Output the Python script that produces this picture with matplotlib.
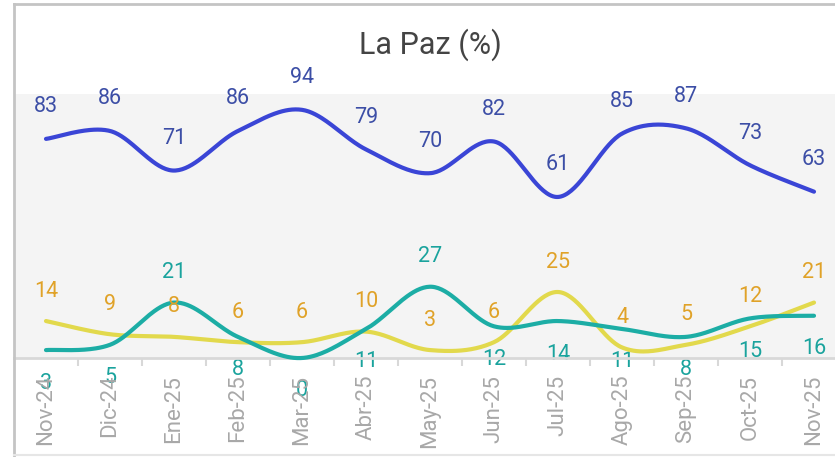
import numpy as np
import matplotlib
matplotlib.use("Agg")
import matplotlib.pyplot as plt
from matplotlib.lines import Line2D

months = ["Nov-24", "Dic-24", "Ene-25", "Feb-25", "Mar-25", "Abr-25", "May-25",
          "Jun-25", "Jul-25", "Ago-25", "Sep-25", "Oct-25", "Nov-25"]
blue_vals = [83, 86, 71, 86, 94, 79, 70, 82, 61, 85, 87, 73, 63]
teal_vals = [3, 5, 21, 8, 0, 11, 27, 12, 14, 11, 8, 15, 16]
yellow_vals = [14, 9, 8, 6, 6, 10, 3, 6, 25, 4, 5, 12, 21]

plt.rcParams['font.family'] = ['Roboto', 'DejaVu Sans']

W, H = 835, 457
fig = plt.figure(figsize=(W / 100, H / 100), dpi=100)


def smooth(xs, ys, n=40):
    xs = np.asarray(xs, float)
    ys = np.asarray(ys, float)
    P = np.column_stack([xs, ys])
    Pe = np.vstack([P[0], P, P[-1]])
    out = []
    t = np.linspace(0, 1, n)[:, None]
    for i in range(len(P) - 1):
        p0, p1, p2, p3 = Pe[i], Pe[i + 1], Pe[i + 2], Pe[i + 3]
        c1 = p1 + (p2 - p0) / 6.0
        c2 = p2 - (p3 - p1) / 6.0
        seg = ((1 - t) ** 3) * p1 + 3 * ((1 - t) ** 2) * t * c1 + 3 * (1 - t) * t ** 2 * c2 + t ** 3 * p2
        out.append(seg if i == 0 else seg[1:])
    out = np.vstack(out)
    return out[:, 0], out[:, 1]


ax = fig.add_axes([14 / W, (H - 358) / H, 832 / W, (358 - 94) / H])
ax.set_facecolor('#f4f4f4')
ax.set_xlim(-0.5, len(months) - 0.5)
ax.set_ylim(0, 100)

x = np.arange(len(months))
series = [
    (blue_vals, '#3a45d6'),
    (yellow_vals, '#e2d94c'),
    (teal_vals, '#1cada5'),
]
for vals, lc in series:
    sx, sy = smooth(x, vals)
    ax.plot(sx, sy, color=lc, lw=3.0, solid_capstyle='round', clip_on=False, zorder=3)

for i, v in enumerate(blue_vals):
    ax.annotate(str(v), (x[i], v), xytext=(0, 32), textcoords='offset pixels',
                ha='center', va='center', fontsize=15.5, color='#3c4ea6',
                annotation_clip=False, zorder=4)
for i, v in enumerate(yellow_vals):
    ax.annotate(str(v), (x[i], v), xytext=(0, 30), textcoords='offset pixels',
                ha='center', va='center', fontsize=15.5, color='#e0a228',
                annotation_clip=False, zorder=4)
for i, v in enumerate(teal_vals):
    above = v > 20
    ax.annotate(str(v), (x[i], v), xytext=(0, 30 if above else -33), textcoords='offset pixels',
                ha='center', va='center', fontsize=15.5, color='#1aa39d',
                annotation_clip=False, zorder=1)

for s in ['top', 'right', 'left']:
    ax.spines[s].set_visible(False)
ax.spines['bottom'].set_color('#d8d8d8')
ax.spines['bottom'].set_linewidth(2)
ax.set_yticks([])
ax.set_xticks(x)
ax.set_xticklabels(months, rotation=90, fontsize=16, color='#a8a8a8')
ax.tick_params(axis='x', which='major', length=0, pad=12)
ax.set_xticks(np.arange(len(months) - 1) + 0.5, minor=True)
ax.tick_params(axis='x', which='minor', length=6, width=1.5, color='#d8d8d8')
for lbl in ax.get_xticklabels():
    lbl.set_zorder(10)

fig.text(430 / W, 1 - 45 / H, 'La Paz (%)', ha='center', va='center', fontsize=22, color='#444444')

# frame
fig.add_artist(Line2D([14 / W, 14 / W], [0, 1 - 4 / H], transform=fig.transFigure, color='#c4c4c4', lw=2))
fig.add_artist(Line2D([14 / W, 1], [1 - 4 / H, 1 - 4 / H], transform=fig.transFigure, color='#c4c4c4', lw=2))
fig.add_artist(Line2D([14 / W, 1], [2 / H, 2 / H], transform=fig.transFigure, color='#e6e6e6', lw=1.5))

fig.savefig('out.png', dpi=100)
